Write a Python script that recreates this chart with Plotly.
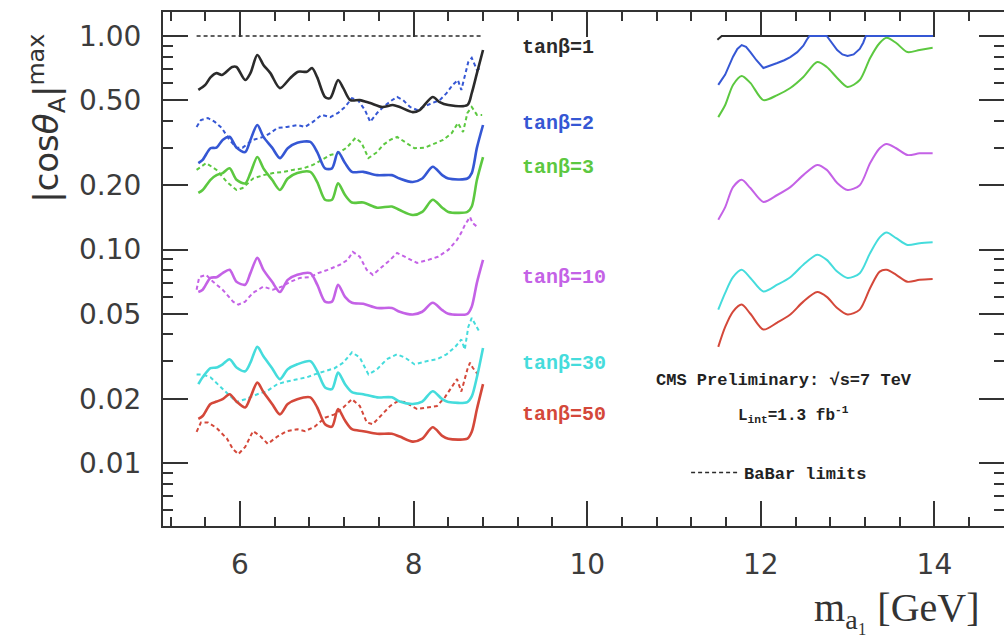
import plotly.graph_objects as go

# ---------------- data ----------------
# tan(beta)=1, CMS limit, low-mass window
x_cms1_lo = [5.52, 5.60, 5.66, 5.73, 5.79, 5.91, 5.96, 6.06, 6.12, 6.20, 6.27, 6.35, 6.46, 6.58,
             6.67, 6.77, 6.83, 6.89, 6.98, 7.04, 7.13, 7.19, 7.27, 7.38, 7.50, 7.64, 7.76, 7.84,
             7.99, 8.07, 8.22, 8.30, 8.40, 8.62, 8.67, 8.73, 8.80]
y_cms1_lo = [0.559, 0.59, 0.64, 0.67, 0.657, 0.716, 0.716, 0.622, 0.67, 0.815, 0.732, 0.67, 0.57, 0.636,
             0.68, 0.68, 0.708, 0.64, 0.518, 0.512, 0.622, 0.57, 0.501, 0.501, 0.485, 0.465, 0.475, 0.465,
             0.44, 0.45, 0.518, 0.49, 0.475, 0.475, 0.54, 0.67, 0.86]

# other CMS limits, low-mass window (shared mass points)
x_cms_lo = [5.52, 5.57, 5.66, 5.73, 5.80, 5.88, 5.96, 6.06, 6.12, 6.20, 6.27, 6.37, 6.46, 6.55,
            6.66, 6.81, 6.89, 6.98, 7.06, 7.13, 7.21, 7.29, 7.42, 7.58, 7.75, 7.84, 7.99, 8.10,
            8.22, 8.33, 8.40, 8.62, 8.67, 8.73, 8.80]
y_cms2_lo = [0.254, 0.263, 0.298, 0.30, 0.326, 0.337, 0.30, 0.286, 0.326, 0.383, 0.337, 0.30, 0.268, 0.298,
             0.316, 0.319, 0.286, 0.24, 0.24, 0.286, 0.254, 0.231, 0.231, 0.223, 0.223, 0.215, 0.207, 0.215,
             0.244, 0.223, 0.215, 0.215, 0.228, 0.30, 0.383]
y_cms3_lo = [0.184, 0.19, 0.212, 0.223, 0.228, 0.24, 0.212, 0.204, 0.228, 0.271, 0.24, 0.212, 0.19, 0.215,
             0.228, 0.231, 0.207, 0.171, 0.171, 0.204, 0.18, 0.166, 0.166, 0.157, 0.159, 0.153, 0.145, 0.150,
             0.171, 0.157, 0.150, 0.150, 0.159, 0.212, 0.271]
y_cms10_lo = [0.0632, 0.0648, 0.0736, 0.0742, 0.0775, 0.0803, 0.0706, 0.0684, 0.0775, 0.0914, 0.0803, 0.0706,
              0.0632, 0.0721, 0.0761, 0.0775, 0.0684, 0.0570, 0.0570, 0.0684, 0.0600, 0.0563, 0.0557, 0.0532,
              0.0532, 0.0511, 0.0496, 0.0511, 0.0563, 0.0520, 0.0500, 0.0500, 0.0540, 0.0700, 0.0894]
y_cms30_lo = [0.0234, 0.0252, 0.0278, 0.028, 0.029, 0.0306, 0.028, 0.0269, 0.0295, 0.035, 0.0316, 0.0278,
              0.0247, 0.0275, 0.029, 0.030, 0.0269, 0.0226, 0.0222, 0.0265, 0.0234, 0.0215, 0.021, 0.0203,
              0.0203, 0.0194, 0.0189, 0.0194, 0.0217, 0.0199, 0.0193, 0.0193, 0.0205, 0.0253, 0.0346]
y_cms50_lo = [0.0161, 0.0166, 0.0189, 0.0194, 0.0199, 0.021, 0.0194, 0.0182, 0.0203, 0.0238, 0.0215, 0.0189,
              0.0169, 0.0189, 0.0199, 0.0203, 0.0182, 0.0152, 0.0148, 0.0179, 0.0158, 0.0144, 0.0141, 0.0137,
              0.0137, 0.0133, 0.0126, 0.013, 0.0147, 0.0134, 0.013, 0.013, 0.014, 0.0179, 0.0234]

# BaBar limits (dotted)
x_babar1 = [5.50, 8.80]
y_babar1 = [1.0, 1.0]
x_babar2 = [5.50, 5.55, 5.63, 5.71, 5.79, 5.88, 5.96, 6.03, 6.15, 6.27, 6.35, 6.43, 6.54, 6.66, 6.75,
            6.84, 6.94, 7.04, 7.13, 7.21, 7.29, 7.36, 7.44, 7.50, 7.58, 7.65, 7.75, 7.81, 7.88, 7.96,
            8.04, 8.11, 8.21, 8.30, 8.38, 8.45, 8.51, 8.55, 8.59, 8.63, 8.67, 8.73, 8.79]
y_babar2 = [0.375, 0.404, 0.413, 0.396, 0.371, 0.326, 0.30, 0.30, 0.326, 0.337, 0.351, 0.371, 0.375, 0.383,
            0.375, 0.396, 0.427, 0.417, 0.436, 0.465, 0.512, 0.50, 0.45, 0.396, 0.436, 0.465, 0.50, 0.518,
            0.50, 0.465, 0.45, 0.465, 0.485, 0.50, 0.54, 0.59, 0.622, 0.559, 0.64, 0.755, 0.79, 0.693, 0.716]
x_babar3 = [5.50, 5.61, 5.73, 5.85, 5.96, 6.03, 6.15, 6.27, 6.38, 6.50, 6.61, 6.73, 6.84, 6.94, 7.04,
            7.13, 7.23, 7.33, 7.40, 7.48, 7.58, 7.65, 7.73, 7.81, 7.90, 8.01, 8.13, 8.25, 8.34, 8.44,
            8.51, 8.57, 8.62, 8.67, 8.73, 8.79]
y_babar3 = [0.236, 0.254, 0.236, 0.207, 0.19, 0.194, 0.215, 0.223, 0.228, 0.231, 0.236, 0.24, 0.249, 0.263,
            0.277, 0.282, 0.30, 0.333, 0.316, 0.268, 0.286, 0.309, 0.326, 0.337, 0.319, 0.298, 0.30, 0.316,
            0.326, 0.351, 0.391, 0.355, 0.436, 0.465, 0.427, 0.427]
x_babar10 = [5.50, 5.53, 5.61, 5.69, 5.80, 5.92, 5.98, 6.06, 6.15, 6.27, 6.38, 6.48, 6.58, 6.69, 6.81,
             6.90, 7.01, 7.15, 7.24, 7.30, 7.38, 7.46, 7.53, 7.64, 7.73, 7.81, 7.90, 8.04, 8.17, 8.28,
             8.40, 8.50, 8.55, 8.59, 8.65, 8.68, 8.74]
y_babar10 = [0.0648, 0.0742, 0.0761, 0.0706, 0.0648, 0.057, 0.0552, 0.057, 0.0627, 0.067, 0.0648, 0.067,
             0.0706, 0.0736, 0.0742, 0.0775, 0.0803, 0.0848, 0.0894, 0.0975, 0.0925, 0.0803, 0.0761, 0.0831,
             0.0894, 0.0964, 0.0925, 0.0865, 0.0894, 0.0925, 0.0996, 0.111, 0.120, 0.130, 0.142, 0.133, 0.127]
x_babar30 = [5.50, 5.57, 5.66, 5.77, 5.88, 5.96, 6.06, 6.20, 6.31, 6.43, 6.54, 6.66, 6.77, 6.86, 6.98,
             7.09, 7.19, 7.29, 7.38, 7.48, 7.58, 7.69, 7.81, 7.90, 8.01, 8.15, 8.27, 8.38, 8.48, 8.55,
             8.59, 8.63, 8.67, 8.73, 8.76]
y_babar30 = [0.026, 0.026, 0.0252, 0.0229, 0.0206, 0.0193, 0.0199, 0.021, 0.0217, 0.0234, 0.0241, 0.0247,
             0.0252, 0.026, 0.0269, 0.0278, 0.0295, 0.033, 0.0312, 0.026, 0.0275, 0.0306, 0.0323, 0.0312,
             0.029, 0.030, 0.0306, 0.0323, 0.035, 0.0379, 0.034, 0.0434, 0.0478, 0.0434, 0.041]
x_babar50 = [5.50, 5.55, 5.63, 5.73, 5.85, 5.92, 5.98, 6.06, 6.15, 6.23, 6.32, 6.43, 6.54, 6.66, 6.75,
             6.86, 6.98, 7.09, 7.19, 7.29, 7.38, 7.46, 7.53, 7.64, 7.73, 7.81, 7.90, 8.04, 8.15, 8.27,
             8.36, 8.44, 8.50, 8.55, 8.62, 8.65, 8.68, 8.74]
y_babar50 = [0.014, 0.0155, 0.0155, 0.0146, 0.013, 0.0116, 0.011, 0.0119, 0.0141, 0.0134, 0.0123, 0.0133,
             0.0141, 0.0144, 0.0141, 0.0148, 0.0163, 0.0169, 0.0182, 0.0199, 0.0185, 0.0155, 0.0152, 0.0169,
             0.0185, 0.0194, 0.0193, 0.0179, 0.0182, 0.0185, 0.0203, 0.0229, 0.0247, 0.0216, 0.0275, 0.0295,
             0.028, 0.026]

# CMS limits, high-mass window
x_cms1_hi = [11.50, 11.55, 14.00]
y_cms1_hi = [0.96, 1.0, 1.0]
x_cms2_hi = [11.51, 11.59, 11.68, 11.73, 11.78, 11.83, 11.88, 11.95, 12.03, 12.11, 12.19, 12.27, 12.34,
             12.42, 12.49, 12.53, 12.56, 12.76, 12.80, 12.84, 12.88, 12.94, 13.00, 13.07, 13.14, 13.18,
             13.21, 14.00]
y_cms2_hi = [0.59, 0.66, 0.80, 0.87, 0.907, 0.89, 0.841, 0.77, 0.708, 0.725, 0.747, 0.77, 0.797,
             0.84, 0.90, 0.96, 1.0, 1.0, 0.95, 0.90, 0.86, 0.82, 0.806, 0.82, 0.87, 0.93,
             1.0, 1.0]
x_cms_hi = [11.51, 11.59, 11.68, 11.78, 11.88, 12.03, 12.19, 12.34, 12.49, 12.65, 12.76, 12.88, 13.00,
            13.14, 13.26, 13.37, 13.45, 13.56, 13.69, 13.83, 13.98]
y_cms3_hi = [0.417, 0.475, 0.59, 0.65, 0.603, 0.501, 0.529, 0.571, 0.643, 0.755, 0.716, 0.636, 0.577,
             0.622, 0.789, 0.927, 0.98, 0.927, 0.841, 0.86, 0.88]
y_cms10_hi = [0.138, 0.158, 0.196, 0.212, 0.194, 0.167, 0.180, 0.196, 0.223, 0.249, 0.236, 0.205, 0.19,
              0.20, 0.254, 0.298, 0.312, 0.298, 0.277, 0.282, 0.282]
y_cms30_hi = [0.0523, 0.0627, 0.0742, 0.0803, 0.0736, 0.0636, 0.0684, 0.0742, 0.0848, 0.0944, 0.0894,
              0.0788, 0.0736, 0.0775, 0.0964, 0.114, 0.120, 0.113, 0.105, 0.107, 0.108]
y_cms50_hi = [0.0350, 0.0434, 0.0512, 0.0552, 0.050, 0.0422, 0.0455, 0.0496, 0.057, 0.0632, 0.060,
              0.0532, 0.0496, 0.0523, 0.066, 0.0788, 0.0803, 0.0761, 0.0706, 0.0721, 0.0727]

x_tick_vals = [6, 8, 10, 12, 14]
x_tick_text = ["6", "8", "10", "12", "14"]
x_minor_vals = [5.2, 5.6, 6.4, 6.8, 7.2, 7.6, 8.4, 8.8, 9.2, 9.6, 10.4, 10.8, 11.2, 11.6,
                12.4, 12.8, 13.2, 13.6, 14.4]
y_tick_vals = [0.01, 0.02, 0.05, 0.1, 0.2, 0.5, 1.0]
y_tick_text = ["0.01", "0.02", "0.05", "0.10", "0.20", "0.50", "1.00"]
y_minor_vals = [0.006, 0.007, 0.008, 0.009, 0.03, 0.04, 0.06, 0.07, 0.08, 0.09,
                0.3, 0.4, 0.6, 0.7, 0.8, 0.9]

# ---------------- style ----------------
BLACK = "#2b2b2b"
BLUE = "#3557d4"
GREEN = "#5cc840"
PURPLE = "#c462e6"
CYAN = "#45dcdc"
RED = "#d4483a"
AXIS = "#333333"
LABEL_FONT = "Liberation Mono"
X_RANGE = [5.113, 14.802]
Y_RANGE = [-2.295, 0.1124]

fig = go.Figure()

def add(x, y, color, width, dash="solid", shape="linear", name=None, legend=False):
    fig.add_trace(go.Scatter(
        x=x, y=y, mode="lines", name=name, showlegend=legend,
        line=dict(color=color, width=width, dash=dash, shape=shape, smoothing=0.8),
        hoverinfo="skip"))

DOT = "4px,3px"
# BaBar dotted
add(x_babar1, y_babar1, BLACK, 1.5, DOT, name="<b>BaBar limits</b>", legend=True)
add(x_babar2, y_babar2, BLUE, 2, DOT)
add(x_babar3, y_babar3, GREEN, 2, DOT)
add(x_babar10, y_babar10, PURPLE, 2, DOT)
add(x_babar30, y_babar30, CYAN, 2, DOT)
add(x_babar50, y_babar50, RED, 2, DOT)
# CMS low window
add(x_cms1_lo, y_cms1_lo, BLACK, 2.6, shape="spline")
add(x_cms_lo, y_cms2_lo, BLUE, 2.6, shape="spline")
add(x_cms_lo, y_cms3_lo, GREEN, 2.6, shape="spline")
add(x_cms_lo, y_cms10_lo, PURPLE, 2.6, shape="spline")
add(x_cms_lo, y_cms30_lo, CYAN, 2.6, shape="spline")
add(x_cms_lo, y_cms50_lo, RED, 2.6, shape="spline")
# CMS high window
add(x_cms1_hi, y_cms1_hi, BLACK, 2)
add(x_cms2_hi, y_cms2_hi, BLUE, 2)
add(x_cms_hi, y_cms3_hi, GREEN, 2, shape="spline")
add(x_cms_hi, y_cms10_hi, PURPLE, 2, shape="spline")
add(x_cms_hi, y_cms30_hi, CYAN, 2, shape="spline")
add(x_cms_hi, y_cms50_hi, RED, 2, shape="spline")

tick_common = dict(ticks="inside", ticklen=25, tickwidth=2, tickcolor=AXIS,
                   showgrid=False, zeroline=False,
                   tickfont=dict(family="DejaVu Sans", size=28, color="#3c3c3c"))

fig.update_layout(
    xaxis=dict(range=X_RANGE, tickvals=x_tick_vals, ticktext=x_tick_text,
               showline=True, linecolor=AXIS, linewidth=2, mirror="ticks",
               minor=dict(tickvals=x_minor_vals, ticks="inside", ticklen=9, tickwidth=2,
                          tickcolor=AXIS, showgrid=False),
               ticklabelstandoff=12, **tick_common),
    yaxis=dict(type="log", range=Y_RANGE, tickvals=y_tick_vals, ticktext=y_tick_text,
               showline=True, linecolor=AXIS, linewidth=2, mirror=False,
               minor=dict(tickvals=y_minor_vals, ticks="inside", ticklen=10, tickwidth=2,
                          tickcolor=AXIS, showgrid=False),
               ticklabelstandoff=14, **tick_common),
    # right-hand tick marks only (the frame's right edge lies at the picture's edge)
    yaxis2=dict(type="log", range=Y_RANGE, overlaying="y", side="right", anchor="x",
                tickvals=y_tick_vals, showticklabels=False, showline=False,
                minor=dict(tickvals=y_minor_vals, ticks="inside", ticklen=10, tickwidth=2,
                           tickcolor=AXIS, showgrid=False),
                **{k: v for k, v in tick_common.items() if k != "tickfont"}),
)
# dummy invisible trace to activate yaxis2
fig.add_trace(go.Scatter(x=[10], y=[0.1], yaxis="y2", mode="lines", showlegend=False,
                         line=dict(width=0), hoverinfo="skip"))

labels = [
    ("tanβ=1", BLACK, 0.930),
    ("tanβ=2", BLUE, 0.784),
    ("tanβ=3", GREEN, 0.698),
    ("tanβ=10", PURPLE, 0.4825),
    ("tanβ=30", CYAN, 0.317),
    ("tanβ=50", RED, 0.216),
]
annotations = []
for txt, col, yp in labels:
    annotations.append(dict(text="<b>" + txt + "</b>", x=0.4245, y=yp, xref="paper", yref="paper",
                            xanchor="left", yanchor="middle", showarrow=False,
                            font=dict(family=LABEL_FONT, size=20, color=col)))
annotations += [
    dict(text="<b>CMS Preliminary: √s=7 TeV</b>", x=0.738, y=0.284, xref="paper", yref="paper",
         xanchor="center", yanchor="middle", showarrow=False,
         font=dict(family=LABEL_FONT, size=17, color="#222222")),
    dict(text="<b>L<sub>int</sub>=1.3 fb<sup>-1</sup></b>", x=0.750, y=0.216, xref="paper", yref="paper",
         xanchor="center", yanchor="middle", showarrow=False,
         font=dict(family=LABEL_FONT, size=16, color="#222222")),
    dict(text="m<sub>a₁</sub> [GeV]", x=0.974, y=-0.163, xref="paper", yref="paper",
         xanchor="right", yanchor="middle", showarrow=False,
         font=dict(family="Liberation Serif", size=40, color="#333333")),
    dict(text="|cos<i>θ</i><sub>A</sub>|<sup>max</sup>", x=-0.138, y=0.794, xref="paper", yref="paper",
         xanchor="center", yanchor="middle", showarrow=False, textangle=-90,
         font=dict(family="DejaVu Sans", size=34, color="#333333")),
]

fig.update_layout(
    width=1004, height=636,
    margin=dict(l=163, r=0, t=12, b=110),
    paper_bgcolor="white", plot_bgcolor="white",
    annotations=annotations,
    showlegend=True,
    legend=dict(x=0.622, y=0.103, xanchor="left", yanchor="middle",
                bgcolor="rgba(0,0,0,0)", itemwidth=48,
                font=dict(family=LABEL_FONT, size=17, color="#222222")),
)

fig.write_html("out.html")
